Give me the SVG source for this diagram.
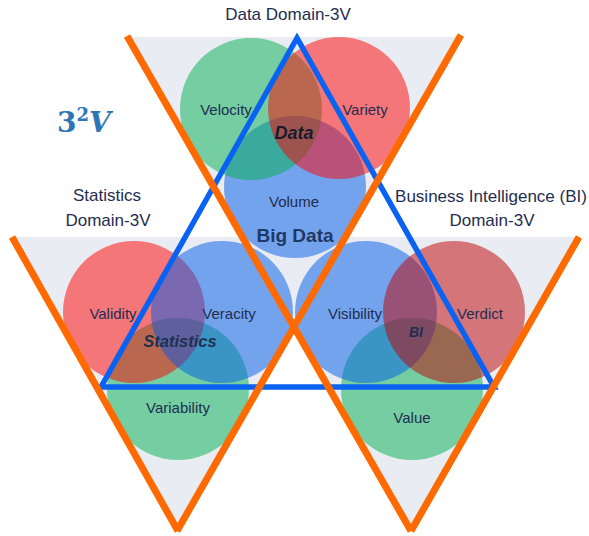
<svg xmlns="http://www.w3.org/2000/svg" width="589" height="536" viewBox="0 0 589 536">
<style>
.bg{fill:#e9edf3}
.g{fill:#00b050;fill-opacity:.5}
.r{fill:#ff0000;fill-opacity:.5}
.dr{fill:#c00000;fill-opacity:.5}
.b{fill:#005ae8;fill-opacity:.5}
.or{stroke:#ff6a00;stroke-width:7;fill:none}
.bl{stroke:#0a62f2;stroke-width:5.5;fill:none;stroke-linejoin:miter}
text{font-family:"Liberation Sans",Arial,sans-serif;fill:#1f2d50;text-anchor:middle}
.lab{font-size:15px}
.dom{font-size:17px}
.cen{font-weight:bold;font-style:italic}
</style>
<g id="backgrounds">
<polygon class="bg" points="127,37 462,37 294,327"/>
<polygon class="bg" points="12,237 345,237 178,531"/>
<polygon class="bg" points="241,237 579,237 411,531"/>
</g>
<g id="data-domain">
<g id="volume"><circle class="b" cx="295" cy="187" r="71"/></g>
<g id="velocity"><circle class="g" cx="251" cy="109" r="71"/></g>
<g id="variety"><circle class="r" cx="339" cy="108" r="71"/></g>
</g>
<g id="statistics-domain">
<g id="variability"><circle class="g" cx="178" cy="389" r="71"/></g>
<g id="validity"><circle class="r" cx="134" cy="312" r="71"/></g>
<g id="veracity"><circle class="b" cx="222" cy="312" r="71"/></g>
</g>
<g id="bi-domain">
<g id="value"><circle class="g" cx="412" cy="389" r="71"/></g>
<g id="visibility"><circle class="b" cx="366" cy="312" r="71"/></g>
<g id="verdict"><circle class="dr" cx="454" cy="312" r="71"/></g>
</g>
<g id="connectors">
<polygon class="bl" points="297,38 101,387 494,387"/>
<line class="or" x1="127" y1="36" x2="411" y2="531"/>
<line class="or" x1="461" y1="35" x2="177" y2="531"/>
<line class="or" x1="12" y1="237" x2="178" y2="531"/>
<line class="or" x1="579" y1="237" x2="411" y2="531"/>
</g>
<g id="labels">
<text class="dom" x="288" y="20">Data Domain-3V</text>
<text x="57" y="132" style="text-anchor:start;font-family:'DejaVu Serif',serif;font-size:28px;font-weight:bold;fill:#2e75b6">3<tspan font-size="18" dy="-11">2</tspan><tspan dy="11" font-style="italic">V</tspan></text>
<text class="dom" x="107" y="201">Statistics</text>
<text class="dom" x="108" y="226">Domain-3V</text>
<text class="dom" x="491" y="202">Business Intelligence (BI)</text>
<text class="dom" x="492" y="226">Domain-3V</text>
<text class="lab" x="226" y="115">Velocity</text>
<text class="lab" x="365" y="115">Variety</text>
<text class="cen" x="294" y="139" style="font-size:18px;fill:#1a1a2a">Data</text>
<text class="lab" x="294" y="207">Volume</text>
<text x="295" y="242" style="font-size:19px;font-weight:bold;fill:#1f3864">Big Data</text>
<text class="lab" x="113" y="319">Validity</text>
<text class="lab" x="229" y="319">Veracity</text>
<text class="cen" x="180" y="347" style="font-size:16.5px;fill:#1f3050">Statistics</text>
<text class="lab" x="178" y="413">Variability</text>
<text class="lab" x="355" y="319">Visibility</text>
<text class="lab" x="480" y="319">Verdict</text>
<text class="cen" x="416" y="337" style="font-size:14px">BI</text>
<text class="lab" x="412" y="423">Value</text>
</g>
</svg>
